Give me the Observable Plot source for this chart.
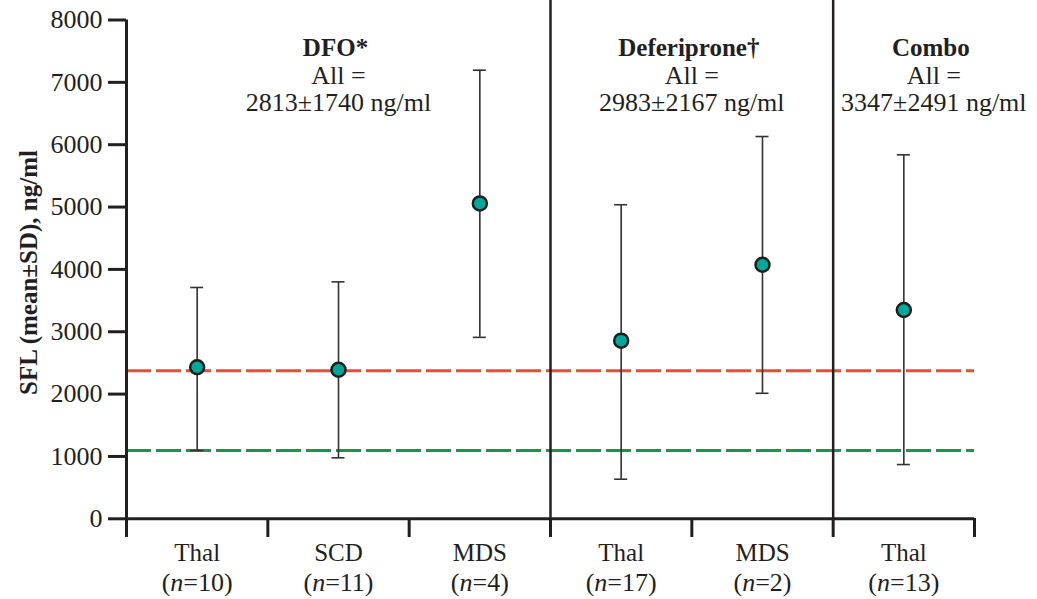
<!DOCTYPE html>
<html>
<head>
<meta charset="utf-8">
<script src="https://cdn.jsdelivr.net/npm/d3@7"></script>
<script src="https://cdn.jsdelivr.net/npm/@observablehq/plot@0.6"></script>
<style>
  html, body { margin: 0; padding: 0; background: #fff; }
  #chart svg { display: block; }
  #chart svg, #chart svg text { font-family: 'Liberation Serif', 'DejaVu Serif', serif !important; }
</style>
</head>
<body>
<div id="chart"></div>
<script>
// ---- data ----
const groupNames = ["DFO*", "Deferiprone†", "Combo"];
const groupAll = ["2813±1740 ng/ml", "2983±2167 ng/ml", "3347±2491 ng/ml"];
const categories = ["Thal", "SCD", "MDS", "Thal", "MDS", "Thal"];
const nValues = [10, 11, 4, 17, 2, 13];
const groupOf = [0, 0, 0, 1, 1, 2];
const means = [2430, 2390, 5058, 2857, 4075, 3349];
const lows = [1095, 978, 2910, 635, 2013, 870];
const highs = [3710, 3800, 7195, 5037, 6131, 5838];
const refUpper = 2375;
const refLower = 1095;
const yTicks = [0, 1000, 2000, 3000, 4000, 5000, 6000, 7000, 8000];

// ---- derived tables ----
const rows = categories.map((c, i) => ({
  pos: i + 0.5, cat: c, n: `(n=${nValues[i]})`,
  mean: means[i], low: lows[i], high: highs[i]
}));
const boundaries = d3.range(categories.length + 1);
const groups = groupNames.map((g, gi) => {
  const idx = groupOf.map((v, i) => v === gi ? i : -1).filter(i => i >= 0);
  return {name: g, all: groupAll[gi], start: d3.min(idx), end: d3.max(idx) + 1,
          center: (d3.min(idx) + d3.max(idx) + 1) / 2, last: gi === groupNames.length - 1};
});
const separators = groups.slice(1).map(g => g.start);
const inner = groups.filter(g => !g.last);
const lastGroup = groups.filter(g => g.last);

const font = "'Liberation Serif', 'DejaVu Serif', serif";
const ink = "#231f20";

function headerMarks(data, dx) {
  return [
    Plot.text(data, {x: "center", text: "name", frameAnchor: "top", dx: dx - 3, dy: 47, lineAnchor: "middle", textAnchor: "middle", fontSize: 25, fontWeight: "bold", fill: ink}),
    Plot.text(data, {x: "center", text: () => "All =", frameAnchor: "top", dx, dy: 75, lineAnchor: "middle", textAnchor: "middle", fontSize: 26, fill: ink}),
    Plot.text(data, {x: "center", text: "all", frameAnchor: "top", dx, dy: 102, lineAnchor: "middle", textAnchor: "middle", fontSize: 26, fill: ink})
  ];
}

const plot = Plot.plot({
  width: 1037,
  height: 599,
  marginLeft: 126,
  marginRight: 63,
  marginTop: 0,
  marginBottom: 81,
  style: {fontFamily: font, fontSize: "24px", color: ink, background: "#fff", overflow: "visible"},
  x: {domain: [0, categories.length]},
  y: {domain: [0, 8000], range: [518.3, 19.5]},
  marks: [
    // reference lines
    Plot.ruleY([refUpper], {x1: 0, x2: categories.length, stroke: "#ee4a3c", strokeWidth: 3, strokeDasharray: "25,5"}),
    Plot.ruleY([refLower], {x1: 0, x2: categories.length, stroke: "#16984c", strokeWidth: 3, strokeDasharray: "25,5"}),
    // axes
    Plot.axisY({ticks: yTicks, tickSize: 18, tickPadding: 6, fontSize: 26, stroke: ink, strokeWidth: 3, label: null, tickFormat: d => String(d)}),
    Plot.axisX({ticks: boundaries, tickSize: 19, tickFormat: () => "", stroke: ink, strokeWidth: 3, label: null}),
    Plot.ruleX([0], {y1: 0, y2: 8000, stroke: ink, strokeWidth: 3}),
    Plot.ruleY([0], {stroke: ink, strokeWidth: 3}),
    Plot.ruleX(separators, {stroke: ink, strokeWidth: 2.5}),
    // error bars
    Plot.ruleX(rows, {x: "pos", y1: "low", y2: "high", stroke: "#333", strokeWidth: 1.6}),
    Plot.ruleY(rows, {y: "low", x1: "pos", x2: "pos", insetLeft: -6.5, insetRight: -6.5, stroke: "#333", strokeWidth: 1.6}),
    Plot.ruleY(rows, {y: "high", x1: "pos", x2: "pos", insetLeft: -6.5, insetRight: -6.5, stroke: "#333", strokeWidth: 1.6}),
    // means
    Plot.dot(rows, {x: "pos", y: "mean", r: 7, fill: "#00a89c", stroke: "#1e1e1e", strokeWidth: 2.5}),
    // category labels
    Plot.text(rows, {x: "pos", text: "cat", frameAnchor: "bottom", dy: 34, lineAnchor: "middle", textAnchor: "middle", fontSize: 25, fill: ink}),
    Plot.text(rows, {x: "pos", text: "n", frameAnchor: "bottom", dy: 64, lineAnchor: "middle", textAnchor: "middle", fontSize: 26, fill: ink}),
    // group headers
    ...headerMarks(inner, 0),
    ...headerMarks(lastGroup, 30),
    // y axis title
    Plot.text(["SFL (mean±SD), ng/ml"], {frameAnchor: "left", dx: -98, dy: 13, rotate: -90, lineAnchor: "middle", textAnchor: "middle", fontSize: 25, fontWeight: "bold", fill: ink})
  ]
});

// italic "n" in sample size labels
d3.select(plot).selectAll("text").each(function () {
  const t = this.textContent;
  const m = /^\(n=(\d+)\)$/.exec(t);
  if (m && this.children.length === 0) {
    const el = d3.select(this);
    el.text("");
    el.append("tspan").text("(");
    el.append("tspan").attr("font-style", "italic").text("n");
    el.append("tspan").text("=" + m[1] + ")");
  }
});

document.getElementById("chart").appendChild(plot);
</script>
</body>
</html>
